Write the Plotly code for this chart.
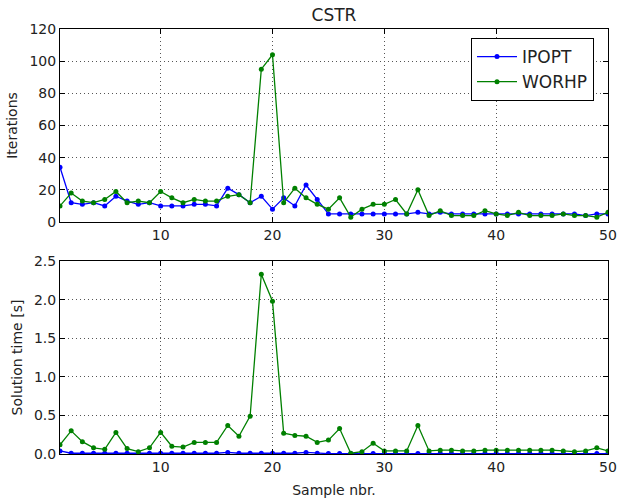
import plotly.graph_objects as go
from plotly.subplots import make_subplots

samples = list(range(1, 51))

ipopt_iter = [34, 12, 11, 12, 10, 16, 13, 11, 12, 10,
              10, 10, 11, 11, 10, 21, 17, 12, 16, 8,
              15, 10, 23, 14, 5, 5, 5, 5, 5, 5,
              5, 5, 6, 5, 6, 5, 5, 5, 5, 5,
              5, 5, 5, 5, 5, 5, 5, 4, 5, 5]
worhp_iter = [10, 18, 13, 12, 14, 19, 12, 13, 12, 19,
              15, 12, 14, 13, 13, 16, 17, 12, 95, 104,
              12, 21, 15, 11, 8, 15, 3, 8, 11, 11,
              14, 5, 20, 4, 7, 4, 4, 4, 7, 5,
              4, 6, 4, 4, 4, 5, 4, 4, 3, 6]

ipopt_time = [0.04, 0.01, 0.01, 0.01, 0.01, 0.01, 0.01, 0.01, 0.01, 0.01,
              0.01, 0.01, 0.01, 0.01, 0.01, 0.02, 0.01, 0.01, 0.01, 0.01,
              0.01, 0.01, 0.02, 0.01, 0.005, 0.005, 0.005, 0.005, 0.005, 0.005,
              0.005, 0.005, 0.005, 0.005, 0.005, 0.005, 0.005, 0.005, 0.005, 0.005,
              0.005, 0.005, 0.005, 0.005, 0.005, 0.005, 0.005, 0.005, 0.005, 0.005]
worhp_time = [0.12, 0.30, 0.16, 0.08, 0.06, 0.28, 0.07, 0.03, 0.08, 0.28,
              0.10, 0.09, 0.15, 0.15, 0.15, 0.37, 0.23, 0.49, 2.33, 1.98,
              0.27, 0.24, 0.23, 0.15, 0.18, 0.33, 0.01, 0.03, 0.14, 0.04,
              0.04, 0.04, 0.37, 0.04, 0.05, 0.05, 0.04, 0.04, 0.05, 0.05,
              0.05, 0.05, 0.05, 0.05, 0.05, 0.04, 0.03, 0.04, 0.08, 0.04]

xticks = [10, 20, 30, 40, 50]
iter_ticks = [0, 20, 40, 60, 80, 100, 120]
time_ticks = [0.0, 0.5, 1.0, 1.5, 2.0, 2.5]
time_ticklabels = ["0.0", "0.5", "1.0", "1.5", "2.0", "2.5"]

BLUE = "#0000ff"
GREEN = "#008000"
FONT = "DejaVu Sans"
TXT = "#222222"

fig = make_subplots(rows=2, cols=1)

def add(x, y, name, color, row, show):
    fig.add_trace(go.Scatter(x=x, y=y, name=name, mode="lines+markers",
                             line=dict(color=color, width=1.3),
                             marker=dict(color=color, size=5),
                             showlegend=show), row=row, col=1)

add(samples, ipopt_iter, "IPOPT", BLUE, 1, True)
add(samples, worhp_iter, "WORHP", GREEN, 1, True)
add(samples, ipopt_time, "IPOPT", BLUE, 2, False)
add(samples, worhp_time, "WORHP", GREEN, 2, False)

axcommon = dict(showline=True, linecolor="black", linewidth=1, mirror="ticks",
                ticks="inside", ticklen=5, tickcolor="black", automargin=False,
                showgrid=True, gridcolor="#555555", griddash="1px,3px", gridwidth=1,
                zeroline=False, tickfont=dict(family=FONT, size=14, color=TXT))

fig.update_xaxes(range=[1, 50], tickvals=xticks, domain=[0, 1], **axcommon)
fig.update_yaxes(**axcommon)
fig.update_yaxes(domain=[0.5459, 1.0], range=[0, 120], tickvals=iter_ticks,
                 title=dict(text="Iterations", font=dict(family=FONT, size=14, color=TXT), standoff=8),
                 row=1, col=1)
fig.update_yaxes(domain=[0.0, 0.4541], range=[0, 2.5], tickvals=time_ticks, ticktext=time_ticklabels,
                 title=dict(text="Solution time [s]", font=dict(family=FONT, size=14, color=TXT), standoff=8),
                 row=2, col=1)
fig.update_xaxes(title=dict(text="Sample nbr.", font=dict(family=FONT, size=14, color=TXT), standoff=12),
                 row=2, col=1)

fig.update_layout(
    width=618, height=498,
    margin=dict(l=60, r=10, t=29, b=44),
    paper_bgcolor="white", plot_bgcolor="white",
    font=dict(family=FONT, color=TXT),
    title=dict(text="CSTR", x=(60 + 608) / 2 / 618, xanchor="center",
               y=1 - 15 / 498, yanchor="middle",
               font=dict(family=FONT, size=17, color=TXT)),
    legend=dict(x=(471 - 60) / 548, y=(454 - 38) / 425, xanchor="left", yanchor="top",
                bgcolor="white", bordercolor="black", borderwidth=1,
                font=dict(family=FONT, size=17, color=TXT),
                itemwidth=40),
)

fig.write_html("out.html")
